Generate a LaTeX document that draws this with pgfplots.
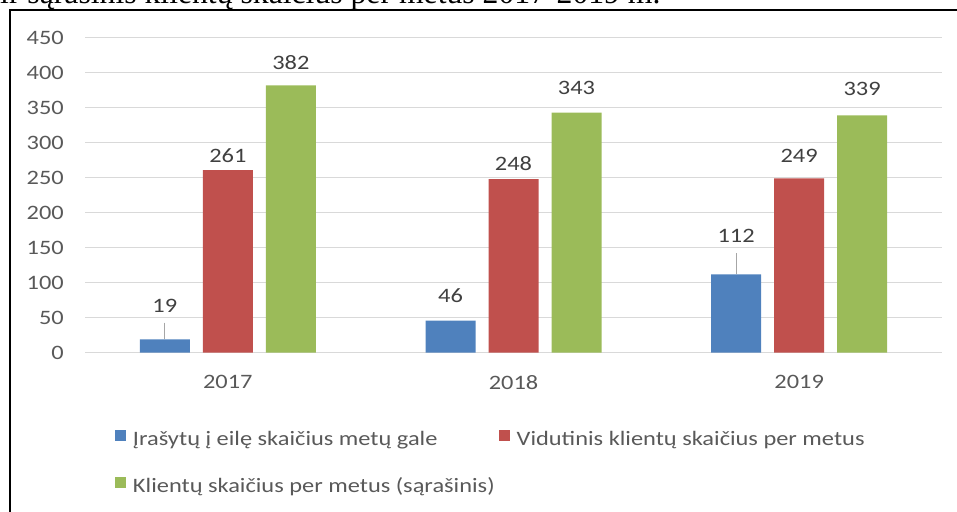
\documentclass[border=0pt]{standalone}
\usepackage{pgfplots}
\usepackage{pgfplotstable}
\pgfplotsset{compat=1.18}
\usepackage{fontspec}
\setmainfont{Carlito}[FakeStretch=1.19]
\newfontfamily\capfont{Liberation Serif}
\definecolor{cblue}{HTML}{4F81BD}
\definecolor{cred}{HTML}{C0504D}
\definecolor{cgreen}{HTML}{9BBB59}
\definecolor{gridgray}{HTML}{D9D9D9}
\definecolor{tickgray}{HTML}{595959}
\definecolor{labelgray}{HTML}{404040}
\definecolor{leadgray}{HTML}{A6A6A6}
\newcommand\chartfont{\fontsize{20.5bp}{24bp}\selectfont}

\pgfplotstableread{
x y dy e
0 19 34 24
1 46 25 0
2 112 38 30
}\tblblue
\pgfplotstableread{
x y dy
0 261 14
1 248 16
2 249 23
}\tblred
\pgfplotstableread{
x y dy
0 382 23
1 343 25
2 339 26
}\tblgreen

\begin{document}
\begin{tikzpicture}
\useasboundingbox (0,0) rectangle (957bp,-512bp);
\clip (0,0) rectangle (957bp,-512bp);
\node[anchor=base west, inner sep=0pt, font=\capfont\fontsize{31.7bp}{36bp}\selectfont] at (0bp,-3.5bp) {ir sąrašinis klientų skaičius per metus 2017-2019 m.};
\draw[line width=2.5bp] (10bp,-600bp) -- (10bp,-10bp) -- (1000bp,-10bp);
\begin{axis}[
  at={(85bp,-352.7bp)}, anchor=south west,
  scale only axis, width=857bp, height=315bp,
  xmin=-0.5, xmax=2.5, ymin=0, ymax=450,
  enlargelimits=false, clip=false,
  ytick={0,50,...,450},
  xtick={0,1,2}, xticklabels={2017,2018,2019},
  axis line style={draw=none},
  major tick length=0pt,
  ymajorgrids, grid style={draw=gridgray, line width=1bp},
  /pgf/number format/assume math mode=true,
  /pgf/number format/1000 sep={},
  tick label style={font=\chartfont, text=tickgray},
  yticklabel style={anchor=east, inner sep=0pt, xshift=-21bp},
  xticklabel style={anchor=center, inner sep=0pt, yshift=-29.5bp},
  ybar, bar width=50bp,
  nodes near coords,
  visualization depends on={\thisrow{dy}\as\dy},
  nodes near coords style={font=\chartfont, text=labelgray, anchor=center, inner sep=0pt, yshift=\dy bp},
  legend columns=2,
  legend cell align=left,
  legend style={at={(axis description cs:0.035,-0.2454)}, anchor=north west, draw=none, fill=none,
    inner sep=0pt, outer sep=0pt, font=\chartfont, text=tickgray, row sep=26bp,
    nodes={inner sep=0pt, text height=14bp, text depth=5bp},
    /tikz/every odd column/.append style={column sep=7bp},
    /tikz/every even column/.append style={column sep=4bp}},
  legend image code/.code={\fill[#1] (0bp,0bp) rectangle (11bp,11bp);},
]
\addplot[fill=cblue, draw=none, bar shift=-63bp,
  error bars/.cd, y dir=plus, y explicit, error mark=none,
  error bar style={draw=leadgray, line width=1bp}]
  table[x=x, y=y, y error=e] {\tblblue};
\addplot[fill=cred, draw=none, bar shift=0bp] table[x=x, y=y] {\tblred};
\addplot[fill=cgreen, draw=none, bar shift=63bp] table[x=x, y=y] {\tblgreen};
\legend{Įrašytų į eilę skaičius metų gale, Vidutinis klientų skaičius per metus, Klientų skaičius per metus (sąrašinis)}
\end{axis}
\end{tikzpicture}
\end{document}
